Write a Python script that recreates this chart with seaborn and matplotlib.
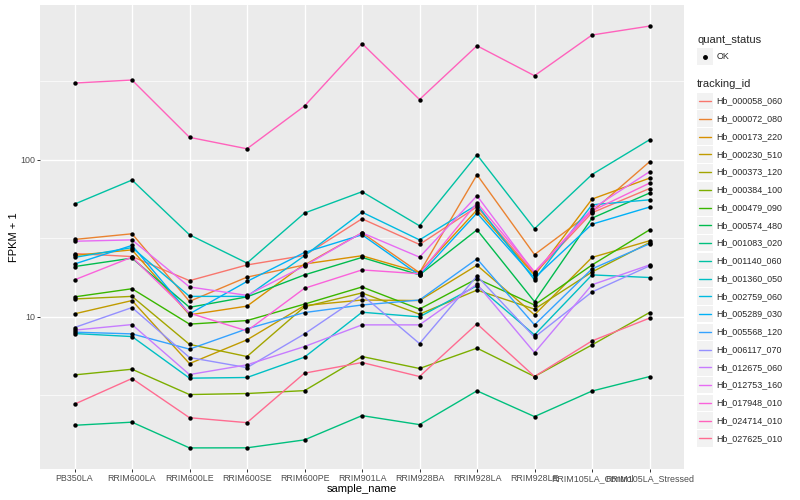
import numpy as np
import pandas as pd
import matplotlib
matplotlib.use("Agg")
import matplotlib.pyplot as plt
import seaborn as sns
from matplotlib.patches import Rectangle
from matplotlib.lines import Line2D

# ---------------- data (FPKM + 1) ----------------
samples = ["PB350LA", "RRIM600LA", "RRIM600LE", "RRIM600SE", "RRIM600PE",
           "RRIM901LA", "RRIM928BA", "RRIM928LA", "RRIM928LE",
           "RRIM105LA_Control", "RRIM105LA_Stressed"]

tracking_ids = ["Hb_000058_060", "Hb_000072_080", "Hb_000173_220", "Hb_000230_510",
                "Hb_000373_120", "Hb_000384_100", "Hb_000479_090", "Hb_000574_480",
                "Hb_001083_020", "Hb_001140_060", "Hb_001360_050", "Hb_002759_060",
                "Hb_005289_030", "Hb_005568_120", "Hb_006117_070", "Hb_012675_060",
                "Hb_012753_160", "Hb_017948_010", "Hb_024714_010", "Hb_027625_010"]

quant_status = ["OK"]

hb_000058_060 = [25.3, 24.2, 17.0, 21.4, 24.6, 42.1, 28.9, 50.2, 18.8, 46.0, 65.6]
hb_000072_080 = [31.1, 33.8, 12.55, 17.9, 21.4, 34.3, 19.1, 80.3, 24.9, 46.7, 97.1]
hb_000173_220 = [24.6, 26.7, 10.3, 11.7, 21.7, 24.5, 19.2, 48.0, 18.4, 56.2, 76.4]
hb_000230_510 = [10.45, 12.7, 5.04, 7.14, 11.8, 12.8, 12.7, 21.3, 10.3, 23.9, 30.5]
hb_000373_120 = [13.0, 13.5, 6.68, 5.59, 11.6, 14.2, 10.4, 14.8, 11.2, 19.3, 29.7]
hb_000384_100 = [4.27, 4.64, 3.20, 3.25, 3.39, 5.59, 4.69, 6.32, 4.17, 6.63, 10.65]
hb_000479_090 = [13.4, 15.1, 8.99, 9.47, 12.05, 15.5, 11.2, 17.5, 11.9, 21.4, 35.8]
hb_000574_480 = [20.9, 23.65, 11.5, 13.4, 18.5, 23.9, 18.5, 35.8, 12.5, 42.5, 61.4]
hb_001083_020 = [2.04, 2.135, 1.464, 1.466, 1.647, 2.35, 2.06, 3.38, 2.317, 3.37, 4.165]
hb_001140_060 = [52.2, 74.3, 33.3, 22.0, 45.8, 62.6, 38.0, 107.6, 36.4, 80.6, 134.1]
hb_001360_050 = [7.83, 7.49, 4.07, 4.11, 5.54, 10.7, 10.0, 15.8, 7.68, 18.5, 17.8]
hb_002759_060 = [23.9, 27.6, 13.5, 13.5, 24.5, 46.4, 30.9, 51.7, 17.2, 51.7, 55.6]
hb_005289_030 = [21.7, 28.5, 10.45, 16.8, 25.7, 33.3, 18.4, 45.8, 17.7, 38.9, 50.0]
hb_005568_120 = [7.99, 7.79, 6.23, 8.39, 10.65, 11.9, 12.8, 23.4, 8.89, 20.2, 29.2]
hb_006117_070 = [8.55, 11.46, 5.51, 4.75, 7.79, 13.8, 6.76, 18.2, 7.42, 14.4, 21.1]
hb_012675_060 = [8.23, 8.93, 4.29, 4.95, 6.47, 8.89, 8.89, 16.15, 5.92, 16.0, 21.4]
hb_012753_160 = [30.3, 30.9, 15.5, 13.7, 21.1, 34.3, 24.0, 59.0, 19.1, 48.7, 83.9]
hb_017948_010 = [17.2, 24.0, 10.56, 8.14, 15.2, 19.9, 18.8, 53.2, 19.35, 47.3, 71.0]
hb_024714_010 = [308, 322, 139, 117.5, 220, 550, 242, 532, 343, 623, 710]
hb_027625_010 = [2.78, 4.05, 2.28, 2.12, 4.38, 5.12, 4.17, 9.03, 4.17, 7.03, 9.81]

series = [hb_000058_060, hb_000072_080, hb_000173_220, hb_000230_510, hb_000373_120,
          hb_000384_100, hb_000479_090, hb_000574_480, hb_001083_020, hb_001140_060,
          hb_001360_050, hb_002759_060, hb_005289_030, hb_005568_120, hb_006117_070,
          hb_012675_060, hb_012753_160, hb_017948_010, hb_024714_010, hb_027625_010]

# ggplot2 default hue palette for 20 levels
palette = ["#F8766D", "#EA8331", "#D89000", "#C09B00", "#A3A500", "#7CAE00",
           "#39B600", "#00BB4E", "#00BF7D", "#00C1A3", "#00BFC4", "#00BAE0",
           "#00B0F6", "#35A2FF", "#9590FF", "#C77CFF", "#E76BF3", "#FA62DB",
           "#FF62BC", "#FF6C91"]

rows = []
for tid, vals in zip(tracking_ids, series):
    for s, v in zip(samples, vals):
        rows.append({"sample_name": s, "tracking_id": tid, "fpkm1": v,
                     "quant_status": quant_status[0]})
df = pd.DataFrame(rows)
df["sample_name"] = pd.Categorical(df["sample_name"], categories=samples, ordered=True)
df["xpos"] = df["sample_name"].cat.codes

# ---------------- figure ----------------
sns.set_theme(style="darkgrid")
plt.rcParams['font.family'] = ['Liberation Sans', 'DejaVu Sans']

W, H = 800, 500
fig = plt.figure(figsize=(8, 5), dpi=100)
fig.patch.set_facecolor("white")

def fx(px):
    return px / W

def fy(py):
    return 1 - py / H

left, right, top, bottom = 40, 684, 5, 469
ax = fig.add_axes([fx(left), fy(bottom), fx(right - left), (bottom - top) / H])
ax.set_facecolor("#EBEBEB")

sns.lineplot(data=df, x="xpos", y="fpkm1", hue="tracking_id", hue_order=tracking_ids,
             palette=palette, estimator=None, sort=False, legend=False,
             linewidth=1.0, ax=ax, zorder=2)
sns.scatterplot(data=df, x="xpos", y="fpkm1", color="black", s=10, linewidth=0,
                legend=False, ax=ax, zorder=3)

ax.set_yscale("log")
lo = np.log10(df["fpkm1"].min())
hi = np.log10(df["fpkm1"].max())
pad = 0.05 * (hi - lo)
ax.set_ylim(10 ** (lo - pad), 10 ** (hi + pad))
ax.set_xlim(-0.6, len(samples) - 1 + 0.6)

ax.set_xticks(range(len(samples)))
ax.set_xticklabels(samples)
ax.set_yticks([10, 100])
ax.set_yticklabels(["10", "100"])
ax.set_yticks([10 ** 0.5, 10 ** 1.5, 10 ** 2.5], minor=True)
ax.yaxis.set_minor_formatter(matplotlib.ticker.NullFormatter())

ax.grid(False)
ax.grid(True, which="major", axis="both", color="white", linewidth=1.0)
ax.grid(True, which="minor", axis="y", color="white", linewidth=0.5)
ax.set_axisbelow(True)
for sp in ax.spines.values():
    sp.set_visible(False)

ax.tick_params(axis="both", which="major", length=2.0, width=0.7, color="#333333",
               labelcolor="#4D4D4D", labelsize=6.4, pad=1.6, bottom=True, left=True)
ax.tick_params(axis="y", which="minor", length=0)

ax.set_xlabel("sample_name", fontsize=8.0, color="black", labelpad=1)
ax.set_ylabel("FPKM + 1", fontsize=8.0, color="black", labelpad=1)

# ---------------- legends (ggplot style, drawn manually) ----------------
key_x, key_w, key_h = 697, 16, 16.5
text_x = 716.5

fig.text(fx(697), fy(40), "quant_status", fontsize=8.0, va="center", ha="left")
fig.patches.append(Rectangle((fx(key_x), fy(56.7 + key_h / 2)), key_w / W, key_h / H,
                             transform=fig.transFigure, facecolor="#F2F2F2",
                             edgecolor="none", figure=fig))
fig.lines.append(Line2D([fx(key_x + key_w / 2)], [fy(56.7)], marker="o", markersize=2.5,
                        color="black", linestyle="none", transform=fig.transFigure,
                        figure=fig))
fig.text(fx(text_x), fy(56.7), quant_status[0], fontsize=6.4, va="center", ha="left")

fig.text(fx(697), fy(84), "tracking_id", fontsize=8.0, va="center", ha="left")
y0, dy = 101, 17.75
for i, (tid, col) in enumerate(zip(tracking_ids, palette)):
    yc = y0 + i * dy
    fig.patches.append(Rectangle((fx(key_x), fy(yc + key_h / 2)), key_w / W, key_h / H,
                                 transform=fig.transFigure, facecolor="#F2F2F2",
                                 edgecolor="none", figure=fig))
    fig.lines.append(Line2D([fx(key_x + 2), fx(key_x + key_w - 2)], [fy(yc), fy(yc)],
                            color=col, linewidth=1.0, transform=fig.transFigure,
                            figure=fig))
    fig.text(fx(text_x), fy(yc), tid, fontsize=6.4, va="center", ha="left")

fig.savefig("out.png", dpi=100, facecolor="white")
